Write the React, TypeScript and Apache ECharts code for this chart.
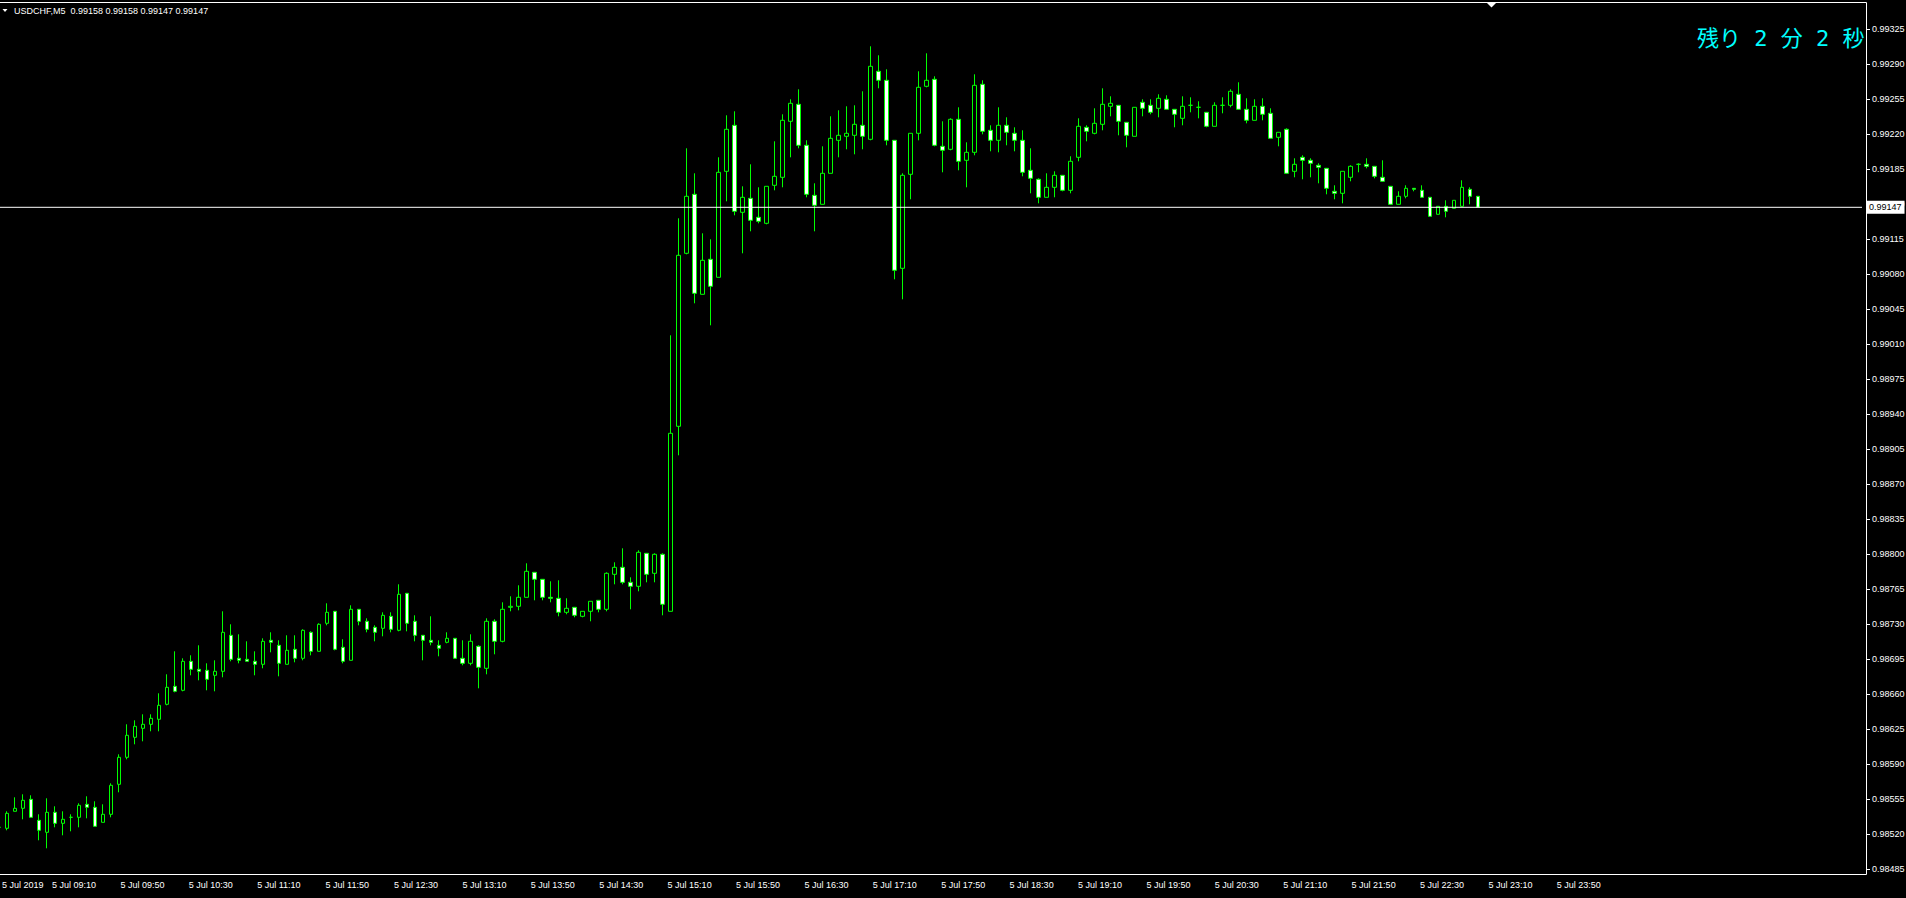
import { useEffect, useRef } from 'react';
import * as echarts from 'echarts';

// ---------- DATA (USDCHF, M5, 5 Jul 2019) ----------
const symbolTitle = 'USDCHF,M5  0.99158 0.99158 0.99147 0.99147';
const countdownText = '残り 2 分 2 秒';
const firstDateLabel = '5 Jul 2019';
const bidPrice = 0.99147;

const openPrices = [
  0.98527, 0.98526, 0.98543, 0.98546, 0.98555, 0.98534, 0.98522, 0.98542, 0.98531, 0.98537,
  0.98537, 0.98550, 0.98547, 0.98532, 0.98540, 0.98570, 0.98597, 0.98617, 0.98626, 0.98630,
  0.98635, 0.98650, 0.98668, 0.98664, 0.98693, 0.98685, 0.98684, 0.98679, 0.98683, 0.98719,
  0.98696, 0.98695, 0.98693, 0.98690, 0.98714, 0.98709, 0.98690, 0.98705, 0.98696, 0.98722,
  0.98703, 0.98731, 0.98743, 0.98707, 0.98694, 0.98745, 0.98733, 0.98727, 0.98726, 0.98738,
  0.98724, 0.98761, 0.98733, 0.98719, 0.98714, 0.98709, 0.98712, 0.98716, 0.98696, 0.98691,
  0.98708, 0.98686, 0.98733, 0.98713, 0.98747, 0.98748, 0.98757, 0.98782, 0.98775, 0.98757,
  0.98756, 0.98742, 0.98747, 0.98738, 0.98743, 0.98754, 0.98745, 0.98780, 0.98787, 0.98772,
  0.98768, 0.98801, 0.98781, 0.98800, 0.98743, 0.98928, 0.99101, 0.99160, 0.99060, 0.99095,
  0.99077, 0.99183, 0.99229, 0.99142, 0.99156, 0.99137, 0.99131, 0.99169, 0.99177, 0.99233,
  0.99250, 0.99209, 0.99159, 0.99150, 0.99181, 0.99214, 0.99218, 0.99219, 0.99229, 0.99215,
  0.99283, 0.99274, 0.99214, 0.99086, 0.99180, 0.99221, 0.99268, 0.99275, 0.99208, 0.99205,
  0.99235, 0.99194, 0.99202, 0.99270, 0.99224, 0.99214, 0.99229, 0.99221, 0.99214, 0.99184,
  0.99175, 0.99157, 0.99167, 0.99179, 0.99164, 0.99197, 0.99227, 0.99221, 0.99230, 0.99248,
  0.99249, 0.99232, 0.99218, 0.99252, 0.99249, 0.99246, 0.99255, 0.99245, 0.99236, 0.99249,
  0.99247, 0.99242, 0.99228, 0.99249, 0.99249, 0.99260, 0.99245, 0.99234, 0.99248, 0.99241,
  0.99217, 0.99225, 0.99183, 0.99197, 0.99194, 0.99189, 0.99186, 0.99163, 0.99161, 0.99177,
  0.99190, 0.99190, 0.99188, 0.99177, 0.99168, 0.99150, 0.99158, 0.99166, 0.99164, 0.99157,
  0.99140, 0.99148, 0.99146, 0.99148, 0.99165, 0.99158,
];

const closePrices = [
  0.98527, 0.98541, 0.98546, 0.98554, 0.98537, 0.98524, 0.98542, 0.98531, 0.98535, 0.98537,
  0.98549, 0.98547, 0.98528, 0.98540, 0.98569, 0.98597, 0.98619, 0.98628, 0.98630, 0.98636,
  0.98649, 0.98667, 0.98663, 0.98693, 0.98685, 0.98683, 0.98675, 0.98683, 0.98722, 0.98695,
  0.98694, 0.98693, 0.98690, 0.98713, 0.98712, 0.98691, 0.98704, 0.98696, 0.98724, 0.98703,
  0.98730, 0.98742, 0.98705, 0.98693, 0.98745, 0.98733, 0.98725, 0.98722, 0.98739, 0.98725,
  0.98760, 0.98731, 0.98719, 0.98714, 0.98712, 0.98706, 0.98716, 0.98696, 0.98691, 0.98713,
  0.98687, 0.98733, 0.98713, 0.98745, 0.98748, 0.98757, 0.98783, 0.98775, 0.98757, 0.98756,
  0.98742, 0.98746, 0.98739, 0.98743, 0.98753, 0.98745, 0.98781, 0.98787, 0.98772, 0.98768,
  0.98802, 0.98780, 0.98800, 0.98750, 0.98921, 0.99099, 0.99158, 0.99061, 0.99094, 0.99068,
  0.99182, 0.99225, 0.99143, 0.99157, 0.99134, 0.99133, 0.99168, 0.99178, 0.99234, 0.99251,
  0.99209, 0.99160, 0.99149, 0.99181, 0.99216, 0.99219, 0.99221, 0.99230, 0.99218, 0.99288,
  0.99274, 0.99214, 0.99084, 0.99179, 0.99221, 0.99267, 0.99274, 0.99209, 0.99204, 0.99235,
  0.99193, 0.99202, 0.99269, 0.99223, 0.99214, 0.99229, 0.99222, 0.99214, 0.99182, 0.99176,
  0.99157, 0.99167, 0.99179, 0.99164, 0.99193, 0.99228, 0.99223, 0.99231, 0.99250, 0.99251,
  0.99233, 0.99219, 0.99247, 0.99246, 0.99242, 0.99256, 0.99245, 0.99240, 0.99248, 0.99249,
  0.99247, 0.99228, 0.99249, 0.99249, 0.99263, 0.99245, 0.99234, 0.99248, 0.99240, 0.99216,
  0.99222, 0.99181, 0.99190, 0.99194, 0.99191, 0.99187, 0.99166, 0.99161, 0.99183, 0.99188,
  0.99190, 0.99188, 0.99178, 0.99173, 0.99150, 0.99158, 0.99166, 0.99165, 0.99157, 0.99138,
  0.99148, 0.99143, 0.99154, 0.99167, 0.99158, 0.99147,
];

const lowPrices = [
  0.98527, 0.98524, 0.98543, 0.98535, 0.98537, 0.98514, 0.98506, 0.98527, 0.98519, 0.98523,
  0.98527, 0.98536, 0.98528, 0.98532, 0.98537, 0.98562, 0.98595, 0.98610, 0.98613, 0.98623,
  0.98623, 0.98649, 0.98662, 0.98663, 0.98679, 0.98674, 0.98664, 0.98663, 0.98677, 0.98693,
  0.98691, 0.98693, 0.98679, 0.98686, 0.98702, 0.98678, 0.98690, 0.98692, 0.98694, 0.98699,
  0.98703, 0.98729, 0.98704, 0.98691, 0.98694, 0.98729, 0.98722, 0.98713, 0.98718, 0.98722,
  0.98723, 0.98723, 0.98713, 0.98694, 0.98709, 0.98698, 0.98711, 0.98696, 0.98689, 0.98689,
  0.98666, 0.98680, 0.98700, 0.98712, 0.98743, 0.98744, 0.98757, 0.98754, 0.98754, 0.98752,
  0.98738, 0.98740, 0.98737, 0.98737, 0.98733, 0.98742, 0.98743, 0.98770, 0.98770, 0.98745,
  0.98763, 0.98772, 0.98772, 0.98739, 0.98743, 0.98899, 0.99100, 0.99051, 0.99060, 0.99029,
  0.99077, 0.99153, 0.99139, 0.99101, 0.99123, 0.99131, 0.99130, 0.99164, 0.99167, 0.99197,
  0.99206, 0.99157, 0.99123, 0.99150, 0.99181, 0.99197, 0.99205, 0.99200, 0.99205, 0.99214,
  0.99266, 0.99209, 0.99075, 0.99055, 0.99155, 0.99214, 0.99267, 0.99208, 0.99182, 0.99204,
  0.99184, 0.99167, 0.99199, 0.99220, 0.99203, 0.99202, 0.99209, 0.99203, 0.99178, 0.99161,
  0.99151, 0.99157, 0.99157, 0.99163, 0.99161, 0.99193, 0.99213, 0.99220, 0.99224, 0.99238,
  0.99219, 0.99207, 0.99218, 0.99238, 0.99240, 0.99237, 0.99245, 0.99227, 0.99229, 0.99242,
  0.99236, 0.99227, 0.99228, 0.99241, 0.99247, 0.99245, 0.99231, 0.99234, 0.99234, 0.99216,
  0.99208, 0.99181, 0.99177, 0.99175, 0.99177, 0.99171, 0.99160, 0.99155, 0.99151, 0.99173,
  0.99182, 0.99186, 0.99176, 0.99173, 0.99150, 0.99150, 0.99156, 0.99163, 0.99157, 0.99138,
  0.99140, 0.99137, 0.99146, 0.99148, 0.99150, 0.99147,
];

const highPrices = [
  0.98527, 0.98543, 0.98557, 0.98560, 0.98559, 0.98540, 0.98556, 0.98548, 0.98543, 0.98540,
  0.98551, 0.98558, 0.98553, 0.98550, 0.98571, 0.98600, 0.98630, 0.98634, 0.98640, 0.98640,
  0.98661, 0.98680, 0.98703, 0.98696, 0.98699, 0.98709, 0.98691, 0.98694, 0.98743, 0.98730,
  0.98720, 0.98713, 0.98703, 0.98716, 0.98722, 0.98714, 0.98719, 0.98719, 0.98725, 0.98723,
  0.98731, 0.98751, 0.98743, 0.98715, 0.98749, 0.98745, 0.98736, 0.98729, 0.98742, 0.98742,
  0.98770, 0.98761, 0.98739, 0.98719, 0.98738, 0.98714, 0.98722, 0.98716, 0.98714, 0.98720,
  0.98709, 0.98736, 0.98735, 0.98752, 0.98758, 0.98769, 0.98791, 0.98782, 0.98775, 0.98773,
  0.98774, 0.98756, 0.98747, 0.98743, 0.98753, 0.98754, 0.98782, 0.98792, 0.98806, 0.98777,
  0.98804, 0.98801, 0.98801, 0.98801, 0.99019, 0.99136, 0.99206, 0.99181, 0.99121, 0.99115,
  0.99197, 0.99239, 0.99243, 0.99168, 0.99190, 0.99167, 0.99168, 0.99213, 0.99240, 0.99255,
  0.99265, 0.99214, 0.99171, 0.99208, 0.99238, 0.99244, 0.99248, 0.99249, 0.99263, 0.99308,
  0.99299, 0.99285, 0.99214, 0.99181, 0.99221, 0.99283, 0.99301, 0.99278, 0.99233, 0.99236,
  0.99247, 0.99212, 0.99280, 0.99274, 0.99229, 0.99247, 0.99237, 0.99227, 0.99224, 0.99206,
  0.99176, 0.99181, 0.99183, 0.99179, 0.99198, 0.99236, 0.99229, 0.99246, 0.99266, 0.99258,
  0.99249, 0.99232, 0.99247, 0.99255, 0.99255, 0.99260, 0.99259, 0.99245, 0.99258, 0.99257,
  0.99253, 0.99242, 0.99252, 0.99257, 0.99265, 0.99272, 0.99256, 0.99255, 0.99256, 0.99246,
  0.99222, 0.99226, 0.99196, 0.99199, 0.99196, 0.99191, 0.99186, 0.99169, 0.99183, 0.99189,
  0.99191, 0.99196, 0.99188, 0.99194, 0.99168, 0.99163, 0.99169, 0.99166, 0.99169, 0.99157,
  0.99148, 0.99154, 0.99154, 0.99174, 0.99167, 0.99158,
];

// price-scale labels (right axis)
const priceTicks = [
  0.98485, 0.98520, 0.98555, 0.98590, 0.98625, 0.98660, 0.98695, 0.98730, 0.98765,
  0.98800, 0.98835, 0.98870, 0.98905, 0.98940, 0.98975, 0.99010, 0.99045, 0.99080,
  0.99115, 0.99150, 0.99185, 0.99220, 0.99255, 0.99290, 0.99325,
];

// time-scale labels (bottom axis)
const timeLabels = [
  '09:10', '09:50', '10:30', '11:10', '11:50', '12:30', '13:10', '13:50', '14:30', '15:10', '15:50', '16:30',
  '17:10', '17:50', '18:30', '19:10', '19:50', '20:30', '21:10', '21:50', '22:30', '23:10', '23:50',
];

// ---------- LAYOUT ----------
const FIRST_BAR_MINUTE = 8 * 60 + 30; // 08:30
const BAR_MINUTES = 5;
const TOTAL_SLOTS = 234; // visible bar slots incl. right shift area
const GRID_LEFT = -5;
const GRID_TOP = 2;
const GRID_W = 1871;
const GRID_H = 872;
const Y_MIN = 0.984803;
const Y_MAX = 0.993523;
const LABEL_ANCHOR_X = 52; // x of first time label
const LABEL_PX_PER_MIN = 68.4 / 40;
const FONT = '"Liberation Sans", Arial, sans-serif';
const GREEN = '#00ff00';

const toMin = (s: string) => {
  const [h, m] = s.split(':').map(Number);
  return h * 60 + m;
};
const fmtTime = (min: number) => {
  const mm = ((Math.round(min) % 1440) + 1440) % 1440;
  const h = Math.floor(mm / 60);
  const m = mm % 60;
  return `${String(h).padStart(2, '0')}:${String(m).padStart(2, '0')}`;
};

const barTimes: string[] = [];
for (let i = 0; i < TOTAL_SLOTS; i++) barTimes.push(fmtTime(FIRST_BAR_MINUTE + i * BAR_MINUTES));

const labelMinutes = timeLabels.map(toMin);
const LABEL_MIN = labelMinutes[0] - (LABEL_ANCHOR_X - GRID_LEFT) / LABEL_PX_PER_MIN;
const LABEL_MAX = LABEL_MIN + GRID_W / LABEL_PX_PER_MIN;

export default function App() {
  const ref = useRef<HTMLDivElement>(null);

  useEffect(() => {
    document.body.style.margin = '0';
    document.body.style.background = '#000';
    if (!ref.current) return;
    const chart = echarts.init(ref.current, undefined, { renderer: 'svg' });

    const candles = openPrices.map((o, i) => [o, closePrices[i], lowPrices[i], highPrices[i]]);

    const right = GRID_LEFT + GRID_W + 0.5;
    const bottom = GRID_TOP + GRID_H + 0.5;

    const option: any = {
      animation: false,
      backgroundColor: '#000',
      grid: {
        left: GRID_LEFT,
        top: GRID_TOP,
        width: GRID_W,
        height: GRID_H,
        containLabel: false,
        outerBoundsMode: 'none',
        show: false,
      },
      xAxis: [
        {
          type: 'category',
          data: barTimes,
          boundaryGap: true,
          axisLine: { show: false },
          axisTick: { show: false },
          axisLabel: { show: false },
          splitLine: { show: false },
        },
        {
          type: 'value',
          position: 'bottom',
          min: LABEL_MIN,
          max: LABEL_MAX,
          axisLine: { show: false },
          splitLine: { show: false },
          axisTick: { show: false },
          axisLabel: {
            customValues: labelMinutes,
            formatter: (v: number) => '5 Jul ' + fmtTime(v),
            align: 'left',
            color: '#ffffff',
            fontSize: 9,
            fontFamily: FONT,
            margin: 6,
            hideOverlap: false,
          },
        },
      ],
      yAxis: {
        type: 'value',
        position: 'right',
        min: Y_MIN,
        max: Y_MAX,
        axisLine: { show: false },
        splitLine: { show: false },
        axisTick: {
          show: true,
          customValues: priceTicks,
          length: 4,
          lineStyle: { color: '#ffffff', width: 1 },
        },
        axisLabel: {
          customValues: priceTicks,
          formatter: (v: number) => v.toFixed(5),
          color: '#ffffff',
          fontSize: 9,
          fontFamily: FONT,
          margin: 6,
        },
      },
      series: [
        {
          type: 'candlestick',
          xAxisIndex: 0,
          data: candles,
          barWidth: 4,
          itemStyle: {
            color: '#000000',
            color0: '#ffffff',
            borderColor: GREEN,
            borderColor0: GREEN,
            borderColorDoji: GREEN,
            borderWidth: 1,
          },
          emphasis: { disabled: true },
        },
        {
          // bid price line
          type: 'line',
          xAxisIndex: 0,
          data: [
            [barTimes[0], bidPrice],
            [barTimes[TOTAL_SLOTS - 1], bidPrice],
          ],
          symbol: 'none',
          silent: true,
          z: 5,
          lineStyle: { color: '#ffffff', width: 1, type: 'solid' },
          emphasis: { disabled: true },
          endLabel: {
            show: true,
            distance: 4,
            formatter: () => bidPrice.toFixed(5),
            backgroundColor: '#ffffff',
            color: '#000000',
            fontSize: 9,
            fontFamily: FONT,
            padding: [2, 3, 2, 3],
          },
        },
      ],
      graphic: [
        // chart frame
        { type: 'line', shape: { x1: 0, y1: 2.5, x2: right, y2: 2.5 }, style: { stroke: '#ffffff', lineWidth: 1 }, silent: true },
        { type: 'line', shape: { x1: right, y1: 2.5, x2: right, y2: bottom }, style: { stroke: '#ffffff', lineWidth: 1 }, silent: true },
        { type: 'line', shape: { x1: 0, y1: bottom, x2: right, y2: bottom }, style: { stroke: '#ffffff', lineWidth: 1 }, silent: true },
        // title
        { type: 'polygon', shape: { points: [[2.5, 9], [7.5, 9], [5, 12]] }, style: { fill: '#ffffff' }, silent: true },
        {
          type: 'text', x: 14, y: 11, silent: true,
          style: { text: symbolTitle, fill: '#ffffff', font: `9px ${FONT}`, verticalAlign: 'middle', align: 'left' },
        },
        // countdown
        {
          type: 'text', x: 1697, y: 38, silent: true,
          style: { text: countdownText, fill: '#00ffff', font: '22px "DejaVu Sans Mono", "Noto Sans CJK JP", monospace', verticalAlign: 'middle', align: 'left' },
        },
        // chart shift marker
        { type: 'polygon', shape: { points: [[1486.5, 2.5], [1496.5, 2.5], [1491.5, 7.5]] }, style: { fill: '#ffffff' }, silent: true },
        // first date label
        {
          type: 'text', x: 2, y: 885, silent: true,
          style: { text: firstDateLabel, fill: '#ffffff', font: `9px ${FONT}`, verticalAlign: 'middle', align: 'left' },
        },
      ],
    };

    chart.setOption(option);
    return () => chart.dispose();
  }, []);

  return (
    <div
      ref={ref}
      style={{ position: 'fixed', left: 0, top: 0, width: 1906, height: 898, background: '#000' }}
    />
  );
}
